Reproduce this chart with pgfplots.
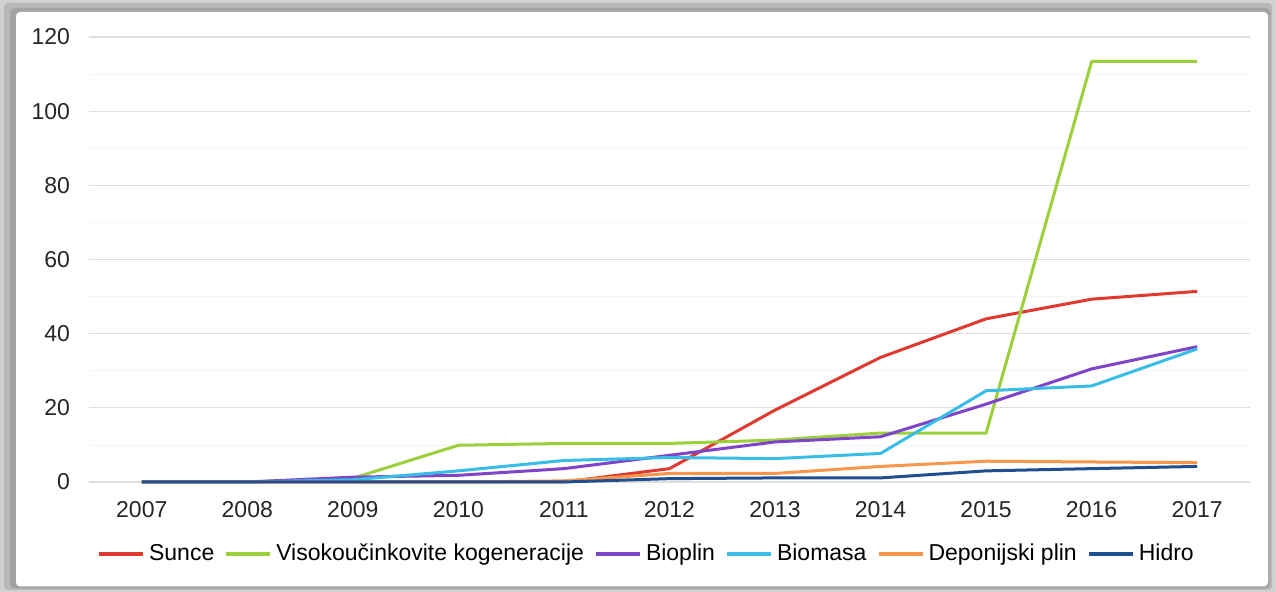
\documentclass[border=0pt]{standalone}
\usepackage{pgfplots}
\pgfplotsset{compat=1.18}
\usepackage{fontspec}
\setmainfont{Liberation Sans}
\definecolor{cSunce}{HTML}{E03A30}
\definecolor{cVis}{HTML}{9BD03A}
\definecolor{cBioplin}{HTML}{7F45C9}
\definecolor{cBiomasa}{HTML}{38BDE6}
\definecolor{cDep}{HTML}{F7964A}
\definecolor{cHidro}{HTML}{1F4F8E}
\begin{document}
\begin{tikzpicture}
\fill[black!18] (0,0) rectangle (637.5pt,296pt);
\fill[black!28, rounded corners=2pt] (2pt,1pt) rectangle (636pt,294.5pt);
\fill[black!36, rounded corners=2pt] (5pt,1.8pt) rectangle (635pt,292pt);
\fill[white, rounded corners=2pt] (8pt,2.8pt) rectangle (634pt,290pt);
\useasboundingbox (0,0) rectangle (637.5pt,296pt);
\begin{axis}[
  at={(44.5pt,55pt)}, anchor=south west,
  scale only axis, width=580.5pt, height=222.5pt,
  xmin=2006.5, xmax=2017.5, ymin=0, ymax=120,
  xtick={2007,...,2017}, ytick={0,20,...,120},
  minor ytick={10,30,...,110},
  xticklabel style={/pgf/number format/1000 sep={}},
  /pgf/number format/assume math mode=true,
  tick label style={font=\fontsize{11.5}{13}\selectfont, text=black!85},
  xticklabel style={yshift=-6pt},
  yticklabel style={xshift=-6pt},
  major tick length=0pt, minor tick length=0pt,
  axis line style={draw=none},
  ymajorgrids, yminorgrids,
  major grid style={black!13, line width=0.6pt},
  minor grid style={black!4, line width=0.4pt},
  clip=false,
  every axis plot/.append style={line width=1.5pt, mark=none, line join=round},
  legend columns=-1,
  legend style={at={(axis description cs:0.481,-0.162)}, anchor=center, draw=none, fill=none,
    font=\fontsize{11.5}{13}\selectfont, inner sep=0pt,
    /tikz/every odd column/.append style={column sep=0pt},
    /tikz/every even column/.append style={column sep=3pt}},
  legend image code/.code={\draw[#1, line width=2pt] (0pt,0pt) -- (22pt,0pt);},
]
\addplot[black!13, line width=0.6pt, forget plot] coordinates {(2006.5,0) (2017.5,0)};
\addplot[cSunce] coordinates {(2007,0) (2008,0) (2009,0) (2010,0) (2011,0) (2012,3.6) (2013,19.4) (2014,33.6) (2015,44) (2016,49.3) (2017,51.4)};
\addplot[cVis] coordinates {(2007,0) (2008,0) (2009,1) (2010,9.9) (2011,10.4) (2012,10.4) (2013,11.3) (2014,13.2) (2015,13.2) (2016,113.4) (2017,113.4)};
\addplot[cBioplin] coordinates {(2007,0) (2008,0) (2009,1.3) (2010,1.8) (2011,3.6) (2012,7.2) (2013,10.8) (2014,12.2) (2015,21) (2016,30.5) (2017,36.5)};
\addplot[cBiomasa] coordinates {(2007,0) (2008,0) (2009,0.6) (2010,3.0) (2011,5.8) (2012,6.6) (2013,6.3) (2014,7.7) (2015,24.6) (2016,25.9) (2017,35.9)};
\addplot[cDep] coordinates {(2007,0) (2008,0) (2009,0) (2010,0) (2011,0.3) (2012,2.3) (2013,2.3) (2014,4.2) (2015,5.6) (2016,5.4) (2017,5.2)};
\addplot[cHidro] coordinates {(2007,0) (2008,0) (2009,0) (2010,0) (2011,0) (2012,0.9) (2013,1.1) (2014,1.1) (2015,3.0) (2016,3.6) (2017,4.2)};
\legend{Sunce, Visokoučinkovite kogeneracije, Bioplin, Biomasa, Deponijski plin, Hidro}
\end{axis}
\end{tikzpicture}
\end{document}
